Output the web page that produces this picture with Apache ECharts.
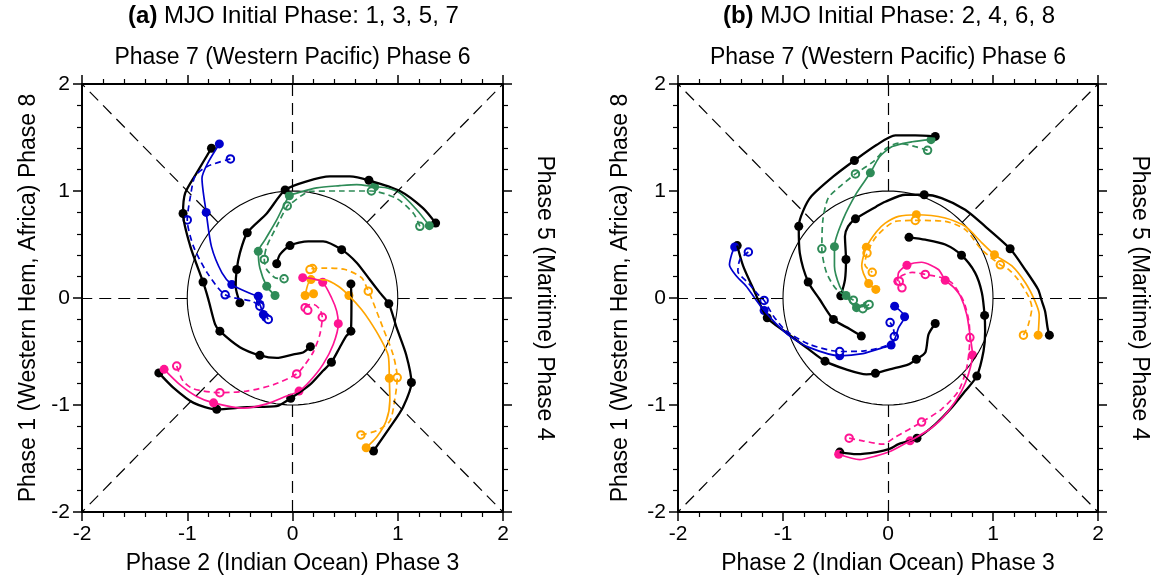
<!DOCTYPE html>
<html>
<head>
<meta charset="utf-8">
<script src="https://cdn.jsdelivr.net/npm/echarts@6.0.0/dist/echarts.min.js"></script>
<style>
html, body { margin: 0; padding: 0; background: #fff; }
#chart { width: 1153px; height: 580px; }
</style>
</head>
<body>
<div id="chart"></div>
<script>
// ---- axis / text ----
const axisMin = -2, axisMax = 2, axisStep = 1;
const titles = ['(a)', '(b)'];
const titleText = ['MJO Initial Phase: 1, 3, 5, 7', 'MJO Initial Phase: 2, 4, 6, 8'];
const topName = 'Phase 7 (Western Pacific) Phase 6';
const bottomName = 'Phase 2 (Indian Ocean) Phase 3';
const leftName = 'Phase 1 (Western Hem, Africa) Phase 8';
const rightName = 'Phase 5 (Maritime) Phase 4';
const refRadius = 1;

// ---- panel (a) ----
const aBlueObs = [[-0.77,1.40],[-0.91,1.17],[-1.02,0.98],[-1.04,0.79],[-0.97,0.48],[-0.85,0.15],[-0.80,-0.01],[-0.735,-0.247],[-0.69,-0.31],[-0.50,-0.46],[-0.31,-0.536],[-0.15,-0.56],[0.01,-0.527],[0.10,-0.51],[0.17,-0.455]];
const aBlueObsDots = [[-0.77,1.40],[-1.04,0.79],[-0.85,0.15],[-0.69,-0.31],[-0.31,-0.536],[0.17,-0.455]];
const aBlueMod = [[-0.695,1.44],[-0.80,1.27],[-0.86,1.12],[-0.82,0.80],[-0.77,0.48],[-0.67,0.235],[-0.577,0.126],[-0.45,0.063],[-0.37,0.03],[-0.325,0.017],[-0.34,-0.03],[-0.31,-0.06],[-0.277,-0.154],[-0.255,-0.18]];
const aBlueModDots = [[-0.695,1.44],[-0.82,0.80],[-0.577,0.126],[-0.325,0.017],[-0.31,-0.06],[-0.277,-0.154],[-0.255,-0.18]];
const aBlueDash = [[-0.59,1.30],[-0.81,1.23],[-0.925,1.14],[-0.97,0.95],[-1.0,0.73],[-0.94,0.48],[-0.81,0.235],[-0.64,0.03],[-0.387,-0.03],[-0.31,-0.076],[-0.27,-0.14],[-0.23,-0.2]];
const aBlueDashDots = [[-0.59,1.30],[-1.0,0.73],[-0.64,0.03],[-0.31,-0.076],[-0.23,-0.2]];

const aGreenObs = [[1.36,0.70],[1.24,0.84],[1.02,1.0],[0.726,1.10],[0.545,1.136],[0.356,1.136],[0.135,1.09],[-0.07,1.01],[-0.245,0.79],[-0.43,0.61],[-0.50,0.42],[-0.53,0.266],[-0.54,0.11],[-0.50,-0.045]];
const aGreenObsDots = [[1.36,0.70],[0.726,1.10],[-0.07,1.01],[-0.43,0.61],[-0.53,0.266],[-0.50,-0.045]];
const aGreenMod = [[1.30,0.676],[1.18,0.825],[1.02,0.98],[0.89,1.03],[0.78,1.04],[0.61,1.06],[0.45,1.05],[0.23,1.03],[0.04,0.98],[-0.03,0.956],[-0.15,0.73],[-0.26,0.545],[-0.325,0.436],[-0.31,0.28],[-0.245,0.11],[-0.166,0.023]];
const aGreenModDots = [[1.30,0.676],[0.78,1.04],[-0.03,0.956],[-0.325,0.436],[-0.245,0.11],[-0.166,0.023]];
const aGreenDash = [[1.21,0.67],[1.15,0.79],[0.99,0.93],[0.75,1.0],[0.45,1.0],[0.166,0.996],[-0.02,0.88],[-0.05,0.86],[-0.15,0.67],[-0.245,0.48],[-0.268,0.36],[-0.245,0.266],[-0.166,0.19],[-0.08,0.18]];
const aGreenDashDots = [[1.21,0.67],[0.75,1.0],[-0.05,0.86],[-0.268,0.36],[-0.08,0.18]];

const aOrangeObs = [[0.77,-1.43],[0.925,-1.21],[1.05,-1.02],[1.13,-0.79],[1.08,-0.53],[0.99,-0.28],[0.915,-0.054],[0.83,0.05],[0.735,0.17],[0.61,0.33],[0.467,0.452],[0.29,0.53],[0.15,0.53],[-0.024,0.49],[-0.12,0.406],[-0.15,0.32]];
const aOrangeObsDots = [[0.77,-1.43],[1.13,-0.79],[0.915,-0.054],[0.467,0.452],[-0.024,0.49],[-0.15,0.32]];
const aOrangeMod = [[0.70,-1.40],[0.80,-1.30],[0.89,-1.15],[0.925,-0.96],[0.92,-0.75],[0.91,-0.54],[0.83,-0.37],[0.735,-0.216],[0.656,-0.107],[0.536,0.023],[0.435,0.11],[0.31,0.17],[0.176,0.172],[0.12,0.023],[0.20,0.04]];
const aOrangeModDots = [[0.70,-1.40],[0.92,-0.75],[0.536,0.023],[0.176,0.172],[0.12,0.023],[0.20,0.04]];
const aOrangeDash = [[0.65,-1.28],[0.80,-1.24],[0.925,-1.15],[0.97,-0.96],[0.995,-0.744],[0.956,-0.53],[0.86,-0.28],[0.75,0.0],[0.72,0.064],[0.656,0.19],[0.50,0.266],[0.31,0.28],[0.19,0.275],[0.166,0.266]];
const aOrangeDashDots = [[0.65,-1.28],[0.995,-0.744],[0.72,0.064],[0.19,0.275],[0.166,0.266]];

const aPinkObs = [[-1.27,-0.70],[-1.13,-0.84],[-0.94,-0.98],[-0.72,-1.04],[-0.435,-1.02],[-0.15,-1.01],[-0.017,-0.937],[0.166,-0.81],[0.29,-0.68],[0.37,-0.60],[0.45,-0.46],[0.51,-0.356],[0.555,-0.31],[0.56,-0.03],[0.555,0.132]];
const aPinkObsDots = [[-1.27,-0.70],[-0.72,-1.04],[-0.017,-0.937],[0.37,-0.60],[0.555,-0.31],[0.555,0.132]];
const aPinkMod = [[-1.22,-0.667],[-1.07,-0.81],[-0.91,-0.92],[-0.75,-0.98],[-0.467,-1.03],[-0.245,-0.99],[-0.055,-0.916],[0.062,-0.87],[0.166,-0.776],[0.29,-0.62],[0.387,-0.434],[0.435,-0.24],[0.42,-0.123],[0.372,0.0],[0.287,0.147],[0.19,0.18],[0.097,0.19]];
const aPinkModDots = [[-1.22,-0.667],[-0.75,-0.98],[0.062,-0.87],[0.435,-0.24],[0.287,0.147],[0.097,0.19]];
const aPinkDash = [[-1.10,-0.636],[-1.04,-0.776],[-0.94,-0.85],[-0.69,-0.885],[-0.435,-0.87],[-0.18,-0.81],[0.04,-0.71],[0.12,-0.62],[0.20,-0.50],[0.26,-0.34],[0.283,-0.18],[0.26,-0.107],[0.20,-0.06],[0.13,-0.07],[0.12,-0.09]];
const aPinkDashDots = [[-1.10,-0.636],[-0.69,-0.885],[0.04,-0.71],[0.283,-0.18],[0.12,-0.09],[0.145,-0.115]];

// ---- panel (b) ----
const bGreenObs = [[0.45,1.51],[0.26,1.52],[0.07,1.52],[-0.11,1.43],[-0.32,1.285],[-0.52,1.136],[-0.73,0.95],[-0.81,0.81],[-0.85,0.67],[-0.84,0.42],[-0.76,0.15],[-0.65,-0.014],[-0.52,-0.20],[-0.365,-0.29],[-0.254,-0.356]];
const bGreenObsDots = [[0.45,1.51],[-0.32,1.285],[-0.85,0.67],[-0.76,0.15],[-0.52,-0.20],[-0.254,-0.356]];
const bGreenMod = [[0.41,1.48],[0.23,1.46],[0.04,1.415],[-0.08,1.32],[-0.168,1.17],[-0.30,0.98],[-0.43,0.73],[-0.51,0.48],[-0.51,0.30],[-0.46,0.11],[-0.40,0.023],[-0.30,-0.09],[-0.20,-0.07]];
const bGreenModDots = [[0.41,1.48],[-0.168,1.17],[-0.51,0.48],[-0.40,0.023],[-0.30,-0.09],[-0.20,-0.07]];
const bGreenDash = [[0.377,1.38],[0.26,1.415],[0.10,1.447],[-0.016,1.40],[-0.14,1.275],[-0.31,1.16],[-0.46,1.04],[-0.57,0.934],[-0.62,0.73],[-0.63,0.46],[-0.585,0.235],[-0.49,0.08],[-0.33,-0.02],[-0.24,-0.1],[-0.18,-0.06]];
const bGreenDashDots = [[0.377,1.38],[-0.31,1.16],[-0.63,0.46],[-0.33,-0.02],[-0.24,-0.1],[-0.18,-0.06]];

const bOrangeObs = [[1.537,-0.347],[1.52,-0.28],[1.496,-0.123],[1.46,-0.014],[1.43,0.08],[1.306,0.266],[1.163,0.46],[0.925,0.67],[0.735,0.825],[0.51,0.934],[0.345,0.965],[0.165,0.965],[-0.026,0.90],[-0.11,0.856],[-0.31,0.74],[-0.38,0.67],[-0.41,0.576],[-0.40,0.36],[-0.41,0.17],[-0.45,0.02]];
const bOrangeObsDots = [[1.537,-0.347],[1.163,0.46],[0.345,0.965],[-0.31,0.74],[-0.40,0.36],[-0.45,0.02]];
const bOrangeMod = [[1.43,-0.347],[1.44,-0.154],[1.40,-0.03],[1.31,0.14],[1.18,0.30],[1.014,0.405],[0.894,0.515],[0.735,0.67],[0.545,0.748],[0.27,0.778],[0.10,0.763],[-0.026,0.70],[-0.11,0.62],[-0.206,0.474],[-0.25,0.30],[-0.184,0.135],[-0.116,0.08]];
const bOrangeModDots = [[1.43,-0.347],[1.014,0.405],[0.27,0.778],[-0.206,0.474],[-0.184,0.135],[-0.116,0.08]];
const bOrangeDash = [[1.29,-0.347],[1.337,-0.247],[1.37,-0.09],[1.337,0.017],[1.24,0.17],[1.15,0.266],[1.07,0.31],[0.894,0.45],[0.735,0.64],[0.545,0.716],[0.26,0.725],[0.07,0.716],[-0.11,0.576],[-0.20,0.42],[-0.22,0.31],[-0.15,0.24]];
const bOrangeDashDots = [[1.29,-0.347],[1.07,0.31],[0.26,0.725],[-0.20,0.42],[-0.15,0.24]];

const bBlueObs = [[-1.436,0.49],[-1.38,0.30],[-1.28,0.08],[-1.15,-0.185],[-0.967,-0.325],[-0.777,-0.464],[-0.60,-0.59],[-0.40,-0.667],[-0.206,-0.713],[-0.12,-0.704],[0.015,-0.667],[0.196,-0.62],[0.27,-0.573],[0.355,-0.51],[0.386,-0.34],[0.45,-0.238]];
const bBlueObsDots = [[-1.436,0.49],[-1.15,-0.185],[-0.60,-0.59],[-0.12,-0.704],[0.27,-0.573],[0.45,-0.238]];
const bBlueMod = [[-1.46,0.477],[-1.49,0.405],[-1.51,0.31],[-1.44,0.2],[-1.35,0.11],[-1.27,0.0],[-1.18,-0.117],[-1.06,-0.247],[-0.936,-0.356],[-0.746,-0.464],[-0.46,-0.54],[-0.24,-0.52],[-0.05,-0.464],[0.03,-0.44],[0.07,-0.37],[0.10,-0.28],[0.158,-0.175],[0.063,-0.076]];
const bBlueModDots = [[-1.46,0.477],[-1.18,-0.117],[-0.46,-0.54],[0.03,-0.44],[0.158,-0.175],[0.063,-0.076]];
const bBlueDash = [[-1.33,0.43],[-1.41,0.36],[-1.43,0.25],[-1.33,0.14],[-1.235,0.03],[-1.18,-0.023],[-1.09,-0.17],[-0.967,-0.31],[-0.746,-0.434],[-0.46,-0.50],[-0.24,-0.496],[0.015,-0.434],[0.06,-0.36],[0.05,-0.28],[0.02,-0.23]];
const bBlueDashDots = [[-1.33,0.43],[-1.18,-0.023],[-0.46,-0.50],[0.06,-0.36],[0.02,-0.23]];

const bPinkObs = [[-0.46,-1.44],[-0.30,-1.46],[-0.11,-1.44],[0.015,-1.41],[0.10,-1.366],[0.276,-1.31],[0.45,-1.18],[0.61,-1.02],[0.735,-0.87],[0.846,-0.73],[0.91,-0.496],[0.925,-0.31],[0.92,-0.163],[0.894,0.05],[0.83,0.235],[0.70,0.40],[0.545,0.50],[0.355,0.545],[0.20,0.567]];
const bPinkObsDots = [[-0.46,-1.44],[0.276,-1.31],[0.846,-0.73],[0.92,-0.163],[0.70,0.40],[0.20,0.567]];
const bPinkMod = [[-0.47,-1.46],[-0.27,-1.51],[-0.11,-1.475],[0.03,-1.43],[0.21,-1.335],[0.42,-1.21],[0.576,-1.055],[0.70,-0.87],[0.766,-0.713],[0.805,-0.533],[0.78,-0.34],[0.75,-0.154],[0.69,0.017],[0.626,0.10],[0.545,0.166],[0.48,0.266],[0.32,0.334],[0.18,0.306],[0.10,0.235],[0.094,0.157]];
const bPinkModDots = [[-0.47,-1.46],[0.21,-1.335],[0.805,-0.533],[0.545,0.166],[0.18,0.306],[0.094,0.157]];
const bPinkDash = [[-0.37,-1.31],[-0.24,-1.335],[-0.05,-1.366],[0.07,-1.30],[0.32,-1.16],[0.51,-1.04],[0.67,-0.87],[0.75,-0.65],[0.78,-0.37],[0.77,-0.216],[0.72,-0.03],[0.61,0.14],[0.51,0.19],[0.355,0.22],[0.23,0.24],[0.117,0.2],[0.107,0.157],[0.133,0.095]];
const bPinkDashDots = [[-0.37,-1.31],[0.32,-1.16],[0.78,-0.37],[0.355,0.22],[0.107,0.157],[0.133,0.095]];

// ---- styling ----
const FONT = '"Liberation Sans", Arial, Helvetica, sans-serif';
const C = { blue: '#0000cd', green: '#2e8b57', orange: '#ffa500', pink: '#ff1493', black: '#000000' };

const panels = [
  { xi: 0, yi: 0, groups: [
    { color: C.blue, obs: [aBlueObs, aBlueObsDots], mod: [aBlueMod, aBlueModDots], dash: [aBlueDash, aBlueDashDots] },
    { color: C.green, obs: [aGreenObs, aGreenObsDots], mod: [aGreenMod, aGreenModDots], dash: [aGreenDash, aGreenDashDots] },
    { color: C.orange, obs: [aOrangeObs, aOrangeObsDots], mod: [aOrangeMod, aOrangeModDots], dash: [aOrangeDash, aOrangeDashDots] },
    { color: C.pink, obs: [aPinkObs, aPinkObsDots], mod: [aPinkMod, aPinkModDots], dash: [aPinkDash, aPinkDashDots] }
  ]},
  { xi: 2, yi: 2, groups: [
    { color: C.blue, obs: [bBlueObs, bBlueObsDots], mod: [bBlueMod, bBlueModDots], dash: [bBlueDash, bBlueDashDots] },
    { color: C.green, obs: [bGreenObs, bGreenObsDots], mod: [bGreenMod, bGreenModDots], dash: [bGreenDash, bGreenDashDots] },
    { color: C.orange, obs: [bOrangeObs, bOrangeObsDots], mod: [bOrangeMod, bOrangeModDots], dash: [bOrangeDash, bOrangeDashDots] },
    { color: C.pink, obs: [bPinkObs, bPinkObsDots], mod: [bPinkMod, bPinkModDots], dash: [bPinkDash, bPinkDashDots] }
  ]}
];

const chart = echarts.init(document.getElementById('chart'), null, { renderer: 'canvas' });

function line(p, data, color, width, type) {
  return {
    type: 'line', xAxisIndex: p.xi, yAxisIndex: p.yi, data: data,
    showSymbol: false, smooth: 0.25, silent: true,
    lineStyle: { color: color, width: width, type: type, opacity: 1 }
  };
}
function dots(p, data, color, open) {
  return {
    type: 'scatter', xAxisIndex: p.xi, yAxisIndex: p.yi, data: data, silent: true,
    symbol: open ? 'emptyCircle' : 'circle', symbolSize: open ? 7.5 : 9,
    itemStyle: open
      ? { color: color, borderColor: color, borderWidth: 1.3, opacity: 1 }
      : { color: color, opacity: 1 }
  };
}

// guide: unit circle and dashed phase dividers
function guide(p) {
  const circle = [];
  for (let a = 0; a <= 360; a += 3) {
    circle.push([refRadius * Math.cos(a * Math.PI / 180), refRadius * Math.sin(a * Math.PI / 180)]);
  }
  const d = refRadius * Math.SQRT1_2;
  const segs = [
    [[0, refRadius], [0, axisMax]], [[0, -refRadius], [0, axisMin]],
    [[refRadius, 0], [axisMax, 0]], [[-refRadius, 0], [axisMin, 0]],
    [[d, d], [axisMax, axisMax]], [[-d, d], [axisMin, axisMax]],
    [[d, -d], [axisMax, axisMin]], [[-d, -d], [axisMin, axisMin]]
  ];
  return {
    type: 'line', xAxisIndex: p.xi, yAxisIndex: p.yi, data: circle,
    showSymbol: false, smooth: false, silent: true,
    lineStyle: { color: '#000', width: 1.1 },
    markLine: {
      silent: true, symbol: ['none', 'none'], animation: false,
      label: { show: false },
      lineStyle: { color: '#000', width: 1.2, type: [12, 7] },
      data: segs.map(s => [{ coord: s[0] }, { coord: s[1] }])
    }
  };
}

const series = [];
panels.forEach(p => {
  series.push(guide(p));
  p.groups.forEach(g => { series.push(line(p, g.obs[0], C.black, 2.3)); series.push(dots(p, g.obs[1], C.black, false)); });
  p.groups.forEach(g => { series.push(line(p, g.mod[0], g.color, 1.7)); series.push(dots(p, g.mod[1], g.color, false)); });
  p.groups.forEach(g => { series.push(line(p, g.dash[0], g.color, 1.7, [6, 4])); series.push(dots(p, g.dash[1], g.color, true)); });
});

const nameStyle = { color: '#000', fontSize: 23, fontFamily: FONT };
function axis(gridIndex, position, labels, name, gap, rotate) {
  const a = {
    gridIndex: gridIndex, type: 'value', position: position,
    min: axisMin, max: axisMax, interval: axisStep,
    axisLine: { onZero: false, lineStyle: { color: '#000', width: 2 } },
    axisTick: { inside: false, length: 9, lineStyle: { color: '#000', width: 1.5 } },
    minorTick: { show: true, splitNumber: 5, length: 5, lineStyle: { color: '#000', width: 1.2 } },
    splitLine: { show: false },
    axisLabel: { show: labels, color: '#000', fontSize: 21, fontFamily: FONT, margin: 12 },
    name: name, nameLocation: 'middle', nameGap: gap, nameTextStyle: nameStyle
  };
  if (rotate !== undefined) a.nameRotate = rotate;
  return a;
}

const grids = [
  { left: 82, top: 84, width: 421, height: 429 },
  { left: 678, top: 84, width: 420, height: 429 }
];

chart.setOption({
  animation: false,
  backgroundColor: '#ffffff',
  title: grids.map((g, i) => ({
    text: '{b|' + titles[i] + '} ' + titleText[i],
    left: g.left + g.width / 2 + 1, top: 4, textAlign: 'center', padding: 0,
    textStyle: {
      color: '#000', fontSize: 24, fontWeight: 'normal', fontFamily: FONT,
      rich: { b: { color: '#000', fontSize: 24, fontWeight: 'bold', fontFamily: FONT } }
    }
  })),
  grid: grids,
  xAxis: [
    axis(0, 'bottom', true, bottomName, 40),
    axis(0, 'top', false, topName, 15),
    axis(1, 'bottom', true, bottomName, 40),
    axis(1, 'top', false, topName, 15)
  ],
  yAxis: [
    axis(0, 'left', true, leftName, 42, 90),
    axis(0, 'right', false, rightName, 30, -90),
    axis(1, 'left', true, leftName, 46, 90),
    axis(1, 'right', false, rightName, 30, -90)
  ],
  series: series
});
</script>
</body>
</html>
